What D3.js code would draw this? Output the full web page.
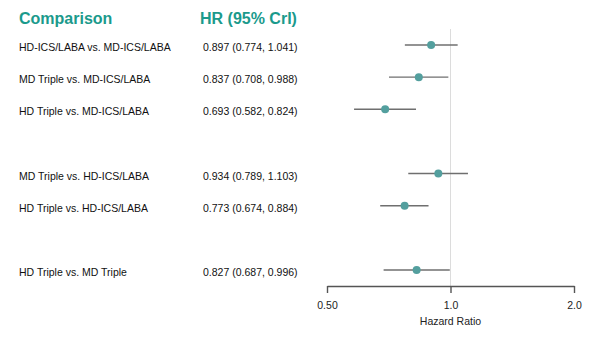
<!DOCTYPE html>
<html>
<head>
<meta charset="utf-8">
<script src="https://cdn.jsdelivr.net/npm/d3@7"></script>
<style>
  html, body { margin: 0; padding: 0; background: #fff; }
  svg { display: block; font-family: "Liberation Sans", Arial, sans-serif; }
</style>
</head>
<body>
<svg id="chart" width="602" height="351"></svg>
<script>
// ---- data ----
const comparisons = [
  "HD-ICS/LABA vs. MD-ICS/LABA",
  "MD Triple vs. MD-ICS/LABA",
  "HD Triple vs. MD-ICS/LABA",
  "MD Triple vs. HD-ICS/LABA",
  "HD Triple vs. HD-ICS/LABA",
  "HD Triple vs. MD Triple"
];
const slots = [0, 1, 2, 4, 5, 7];          // row slot (blank slots separate groups)
const hr    = [0.897, 0.837, 0.693, 0.934, 0.773, 0.827];
const lower = [0.774, 0.708, 0.582, 0.789, 0.674, 0.687];
const upper = [1.041, 0.988, 0.824, 1.103, 0.884, 0.996];
const tickValues = [0.5, 1.0, 2.0];
const tickLabels = ["0.50", "1.0", "2.0"];
const headers = ["Comparison", "HR (95% CrI)"];
const axisTitle = "Hazard Ratio";

// ---- layout ----
const svg = d3.select("#chart");
const teal = "#1b9a8c";
const dotColor = "#539f9e";
const barColor = "#6f6f6f";

const x = d3.scaleLog().domain([0.5, 2]).range([327, 574]);
const y = d3.scaleLinear().domain([0, 7]).range([45, 270]);
const axisY = 286;

const fmt = d3.format(".3f");

// headers
svg.append("text").attr("x", 19).attr("y", 24)
  .attr("font-size", 16).attr("font-weight", "bold").attr("fill", teal)
  .text(headers[0]);
svg.append("text").attr("x", 200).attr("y", 24)
  .attr("font-size", 16).attr("font-weight", "bold").attr("fill", teal)
  .text(headers[1]);

// reference line at HR = 1
svg.append("line")
  .attr("x1", x(1)).attr("x2", x(1))
  .attr("y1", 29).attr("y2", axisY)
  .attr("stroke", "#dcdcdc").attr("stroke-width", 1);

const rows = svg.append("g").selectAll("g")
  .data(comparisons.map((c, i) => ({c, slot: slots[i], hr: hr[i], lo: lower[i], hi: upper[i]})))
  .join("g");

rows.append("text")
  .attr("x", 19).attr("y", d => y(d.slot) + 6)
  .attr("font-size", 10.5).attr("fill", "#111")
  .text(d => d.c);

rows.append("text")
  .attr("x", 203).attr("y", d => y(d.slot) + 6)
  .attr("font-size", 10.5).attr("fill", "#111")
  .text(d => `${fmt(d.hr)} (${fmt(d.lo)}, ${fmt(d.hi)})`);

rows.append("line")
  .attr("x1", d => x(d.lo)).attr("x2", d => x(d.hi))
  .attr("y1", d => y(d.slot)).attr("y2", d => y(d.slot))
  .attr("stroke", barColor).attr("stroke-width", 1.4);

rows.append("circle")
  .attr("cx", d => x(d.hr)).attr("cy", d => y(d.slot))
  .attr("r", 4).attr("fill", dotColor);

// axis
const axis = d3.axisBottom(x)
  .tickValues(tickValues)
  .tickFormat((d, i) => tickLabels[i])
  .tickSize(7).tickSizeOuter(0).tickPadding(9);

const ag = svg.append("g").attr("transform", `translate(0,${axisY})`).call(axis);
ag.select(".domain").attr("stroke", "#555").attr("stroke-width", 1.4);
ag.selectAll(".tick line").attr("stroke", "#555").attr("stroke-width", 1.4);
ag.selectAll(".tick text").attr("font-size", 10.5).attr("fill", "#222")
  .attr("font-family", "Liberation Sans, Arial, sans-serif");

svg.append("text")
  .attr("x", x(1)).attr("y", 325)
  .attr("text-anchor", "middle")
  .attr("font-size", 10.5).attr("fill", "#222")
  .text(axisTitle);
</script>
</body>
</html>
